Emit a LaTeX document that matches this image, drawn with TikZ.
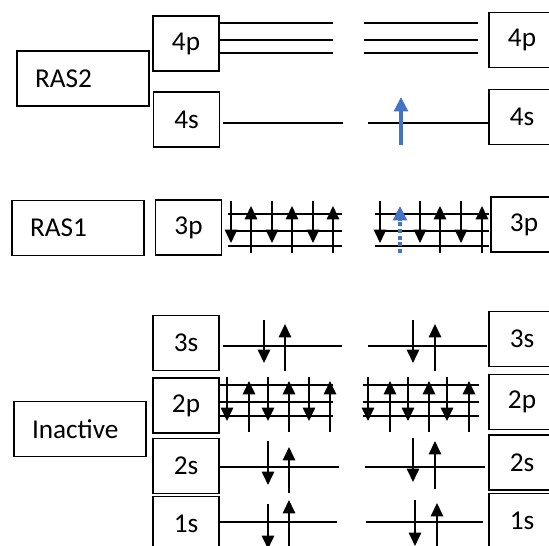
\documentclass[tikz,border=0pt]{standalone}
\usepackage{fontspec}
\setmainfont{Carlito}
\usetikzlibrary{arrows.meta}
\definecolor{spinblue}{HTML}{4472C4}
\tikzset{
  orb/.style={draw, line width=0.75pt, minimum width=1.32cm, minimum height=1.1cm,
    inner sep=0pt, font=\fontsize{15.5}{17}\selectfont},
  space/.style={draw, line width=0.75pt, text width=1.92cm, inner xsep=0.36cm,
    minimum height=1.1cm, align=left, font=\fontsize{15.5}{17}\selectfont},
  level/.style={line width=1.1pt},
  spin/.style={line width=1.1pt, -{Triangle[width=7pt,length=7.6pt]}},
  excited/.style={spinblue, line width=1.9pt, -{Triangle[width=7.8pt,length=8.2pt]}}
}
\begin{document}
\begin{tikzpicture}[x=0.02cm, y=-0.02cm]
\useasboundingbox (0,0) rectangle (549,546);
\clip (0,0) rectangle (549,546);

% Spaces
\node[space] (ras2) at (83,78.5) {RAS2};
\node[space] (ras1) at (78,228) {RAS1};
\node[space] (inactive) at (80,429) {Inactive};

% Orbital boxes, ground state
\node[orb] (p4L) at (186,43.5) {4p};
\node[orb] (s4L) at (186.5,119.5) {4s};
\node[orb] (p3L) at (188.5,227.5) {3p};
\node[orb] (s3L) at (186,343) {3s};
\node[orb] (p2L) at (186,405.5) {2p};
\node[orb] (s2L) at (186,466) {2s};
\node[orb] (s1L) at (186,524) {1s};

% Orbital boxes, excited state
\node[orb] (p4R) at (522,40) {4p};
\node[orb] (s4R) at (522,117) {4s};
\node[orb] (p3R) at (524,224.5) {3p};
\node[orb] (s3R) at (522,339) {3s};
\node[orb] (p2R) at (522,402) {2p};
\node[orb] (s2R) at (522,462.5) {2s};
\node[orb] (s1R) at (522,521) {1s};

% 4p levels (empty)
\foreach \y in {23,40,53} {
  \draw[level] (219,\y) -- (333,\y);
  \draw[level] (364,\y) -- (478,\y);
}

% 4s
\draw[level] (223,123) -- (343,123);
\draw[level] (368,123) -- (488,123);
\draw[excited] (401,145) -- (401,97);

% 3p
\foreach \y in {214,231,246} {
  \draw[level] (228,\y) -- (342,\y);
  \draw[level] (375,\y) -- (489,\y);
}
\foreach \x in {231,272,313,380,420,461}
  \draw[spin] (\x,201) -- (\x,243);
\foreach \x in {251,292,333,440,482}
  \draw[spin] (\x,253) -- (\x,206);
\draw[excited, dash pattern=on 2.2pt off 1.6pt] (400,253) -- (400,206);

% 3s
\draw[level] (223,346) -- (342,346);
\draw[level] (368,346) -- (487,346);
\foreach \x in {264,413}
  \draw[spin] (\x,320) -- (\x,363);
\foreach \x in {285,435}
  \draw[spin] (\x,371) -- (\x,324);

% 2p
\foreach \y in {385,402,416} {
  \draw[level] (220,\y) -- (333,\y);
  \draw[level] (363,\y) -- (479,\y);
}
\foreach \x in {227,268,309,368,408,447}
  \draw[spin] (\x,377) -- (\x,421);
\foreach \x in {249,289,330,390,429,469}
  \draw[spin] (\x,432) -- (\x,381);

% 2s
\draw[level] (219,467) -- (339,467);
\draw[level] (365,467) -- (485,467);
\draw[spin] (268,441) -- (268,485);
\draw[spin] (289,493) -- (289,447);
\draw[spin] (413,438) -- (413,482);
\draw[spin] (435,489) -- (435,441);

% 1s
\draw[level] (219,522) -- (337,522);
\draw[level] (366,522) -- (483,522);
\draw[spin] (268,504) -- (268,549);
\draw[spin] (289,552) -- (289,500);
\draw[spin] (415,500) -- (415,546);
\draw[spin] (437,552) -- (437,503);

\end{tikzpicture}
\end{document}
